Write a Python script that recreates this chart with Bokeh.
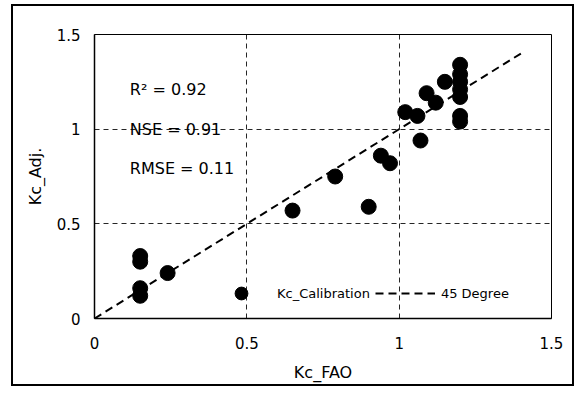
import numpy as np
from bokeh.plotting import figure
from bokeh.models import Label, Legend, LegendItem, FixedTicker, Range1d
from bokeh.embed import file_html
from bokeh.resources import INLINE

# data
kc_fao = [0.15, 0.15, 0.15, 0.15, 0.24, 0.65, 0.79, 0.90, 0.94, 0.97,
          1.02, 1.06, 1.07, 1.09, 1.12, 1.15,
          1.20, 1.20, 1.20, 1.20, 1.20, 1.20, 1.20]
kc_adj = [0.33, 0.30, 0.16, 0.12, 0.24, 0.57, 0.75, 0.59, 0.86, 0.82,
          1.09, 1.07, 0.94, 1.19, 1.14, 1.25,
          1.34, 1.29, 1.25, 1.21, 1.17, 1.07, 1.04]
line_x = [0.0, 1.4]
line_y = [0.0, 1.4]
ticks = [0, 0.5, 1, 1.5]
stats = ["R\u00b2 = 0.92", "NSE = 0.91", "RMSE = 0.11"]
stat_y = [1.21, 1.0, 0.793]

FONT = "DejaVu Sans"

p = figure(width=559, height=378, output_backend="svg", toolbar_location=None,
           x_range=Range1d(0, 1.5), y_range=Range1d(0, 1.5),
           min_border_left=81, min_border_right=25, min_border_top=28, min_border_bottom=70,
           background_fill_color="white", border_fill_color="white",
           styles={"border": "2px solid black", "box-sizing": "content-box",
                   "margin-left": "11px", "margin-top": "4px"})

p.outline_line_color = "black"
p.outline_line_width = 1

for ax in (p.xaxis[0], p.yaxis[0]):
    ax.ticker = FixedTicker(ticks=ticks)
    ax.major_tick_line_color = None
    ax.minor_tick_line_color = None
    ax.axis_line_color = "black"
    ax.axis_line_width = 1.5
    ax.major_label_text_font = FONT
    ax.major_label_text_font_size = "15px"
    ax.major_label_text_color = "black"
    ax.axis_label_text_font = FONT
    ax.axis_label_text_font_size = "16px"
    ax.axis_label_text_font_style = "normal"
    ax.axis_label_text_color = "black"
p.xaxis.major_label_standoff = 12
p.yaxis.major_label_standoff = 8
p.xaxis.axis_label_standoff = 11
p.yaxis.axis_label_standoff = 9
p.xaxis.major_label_overrides = {0: "0", 0.5: "0.5", 1: "1", 1.5: "1.5"}
p.yaxis.major_label_overrides = {0: "0", 0.5: "0.5", 1: "1", 1.5: "1.5"}
p.xaxis.axis_label = "Kc_FAO"
p.yaxis.axis_label = "Kc_Adj."

for g in (p.xgrid[0], p.ygrid[0]):
    g.ticker = FixedTicker(ticks=[0.5, 1.0])
    g.grid_line_color = "black"
    g.grid_line_dash = "5 4"
    g.grid_line_width = 1
    g.grid_line_alpha = 0.85

sc = p.scatter(kc_fao, kc_adj, size=15, color="black", marker="circle")
ln = p.line(line_x, line_y, line_color="black", line_width=2, line_dash="8 5")

legend = Legend(items=[LegendItem(label="Kc_Calibration", renderers=[sc]),
                       LegendItem(label="45 Degree", renderers=[ln])],
                orientation="horizontal", location=(117, 9),
                glyph_width=60, glyph_height=32, label_standoff=6, spacing=5,
                padding=0, margin=0, border_line_color=None,
                background_fill_alpha=0, label_text_color="black",
                label_text_font=FONT, label_text_font_size="13px")
p.add_layout(legend, "center")

for t, y in zip(stats, stat_y):
    p.add_layout(Label(x=0.116, y=y, text=t, text_font=FONT, text_font_size="16px",
                       text_baseline="alphabetic", text_color="black"))

open("out.html", "w").write(file_html(p, INLINE))
